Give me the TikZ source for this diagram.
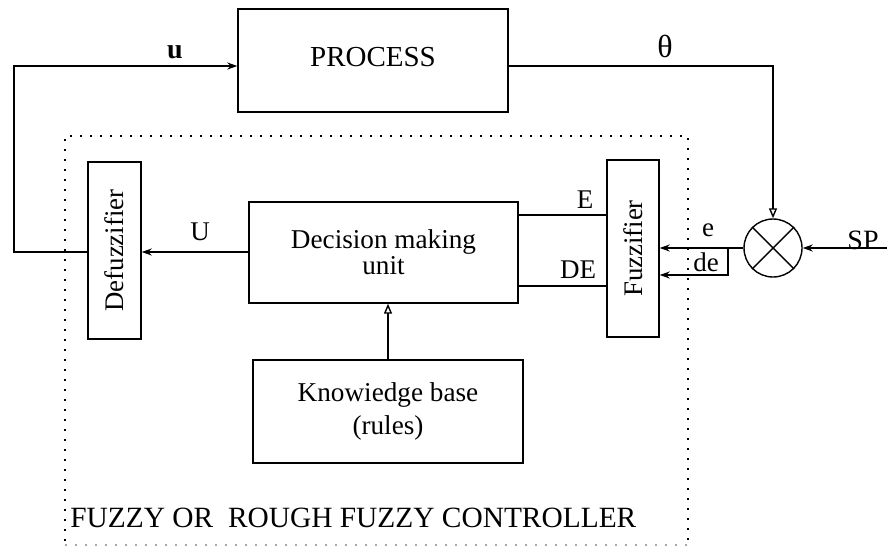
\documentclass[tikz,border=0pt]{standalone}
\usepackage{fontspec}
\setmainfont{Liberation Serif}
\usepackage{tikz}
\usetikzlibrary{arrows.meta, positioning}

\begin{document}
\begin{tikzpicture}[
    x=0.5pt, y=-0.5pt,
    block/.style={rectangle, draw=black, line width=0.7pt, minimum width=134.5pt, minimum height=50.5pt, align=center, inner sep=0pt, font=\fontsize{13.6}{13}\selectfont},
    vblock/.style={rectangle, draw=black, line width=0.7pt, minimum width=26.5pt, minimum height=88.5pt, inner sep=0pt, font=\fontsize{13.4}{15}\selectfont},
    sumnode/.style={circle, draw=black, line width=0.7pt, minimum size=29pt, inner sep=0pt},
    line/.style={draw=black, line width=0.7pt},
    arr/.style={line, -{Stealth[length=5pt, width=3.5pt]}},
    openarr/.style={line, -{Triangle[open, length=5pt, width=4pt]}},
    lbl/.style={inner sep=0pt, font=\fontsize{13.5}{15}\selectfont},
    frame/.style={draw=black, line width=1pt, dash pattern=on 0.9pt off 4.1pt}
]
\useasboundingbox (0,0) rectangle (887,546);

\node[block, minimum width=135pt, minimum height=51.5pt, font=\fontsize{14.5}{16}\selectfont] (process) at (373,60.5) {\raisebox{3.5pt}{PROCESS}};
\node[block] (decision) at (383.5,252.5) {Decision making\\unit};
\node[block, minimum width=135pt, minimum height=51.5pt] (know) at (388,411.5) {\raisebox{2.5pt}{\shortstack{Knowiedge base\\[1pt](rules)}}};
\node[vblock] (defuz) at (114.5,250.5) {\rotatebox{90}{Defuzzifier}};
\node[vblock, minimum width=26pt] (fuzz) at (633,248.5) {\rotatebox{90}{Fuzzifier}};
\node[sumnode] (circ) at (773,248) {};
\draw[line] (circ.north west) -- (circ.south east);
\draw[line] (circ.north east) -- (circ.south west);

% controller frame
\draw[frame] (65,541) -- (65,136) -- (688,136) -- (688,541);
\draw[frame, draw=black!35] (65,545) -- (688,545);
\node[lbl, anchor=west, font=\fontsize{14.7}{16}\selectfont] (title) at (70,518) {FUZZY OR\ \ ROUGH FUZZY CONTROLLER};

\coordinate (ucorner) at (14,66);
\coordinate (tcorner) at (776,66);
\coordinate (debranch) at (728,248);
\coordinate (spin) at (887,248);

\draw[arr] (defuz.west |- 0,252) -| (ucorner) -- (process.west |- ucorner);
\draw[openarr] (process.east |- tcorner) -| (circ.north);
\draw[arr] (decision.west |- 0,252) -- (defuz.east |- 0,252);
\draw[line] (decision.east |- 0,215) -- (fuzz.west |- 0,215);
\draw[line] (decision.east |- 0,286) -- (fuzz.west |- 0,286);
\draw[arr] (circ.west) -- (fuzz.east |- circ.west);
\draw[arr] (debranch) |- (fuzz.east |- 0,275);
\draw[arr] (spin) -- (circ.east);
\draw[openarr] (know.north) -- (decision.south -| know.north);

\node[lbl, font=\bfseries\fontsize{14}{16}\selectfont] (ulbl) at (175,52) {u};
\node[lbl, font=\fontsize{16}{18}\selectfont] (thlbl) at (665,46) {θ};
\node[lbl] (Ulbl) at (200,232) {U};
\node[lbl] (Elbl) at (585,200) {E};
\node[lbl] (DElbl) at (578,270) {DE};
\node[lbl] (elbl) at (708,230) {e};
\node[lbl] (delbl) at (706,262) {de};
\node[lbl, font=\fontsize{14}{16}\selectfont] (splbl) at (863,240) {SP};
\end{tikzpicture}
\end{document}
